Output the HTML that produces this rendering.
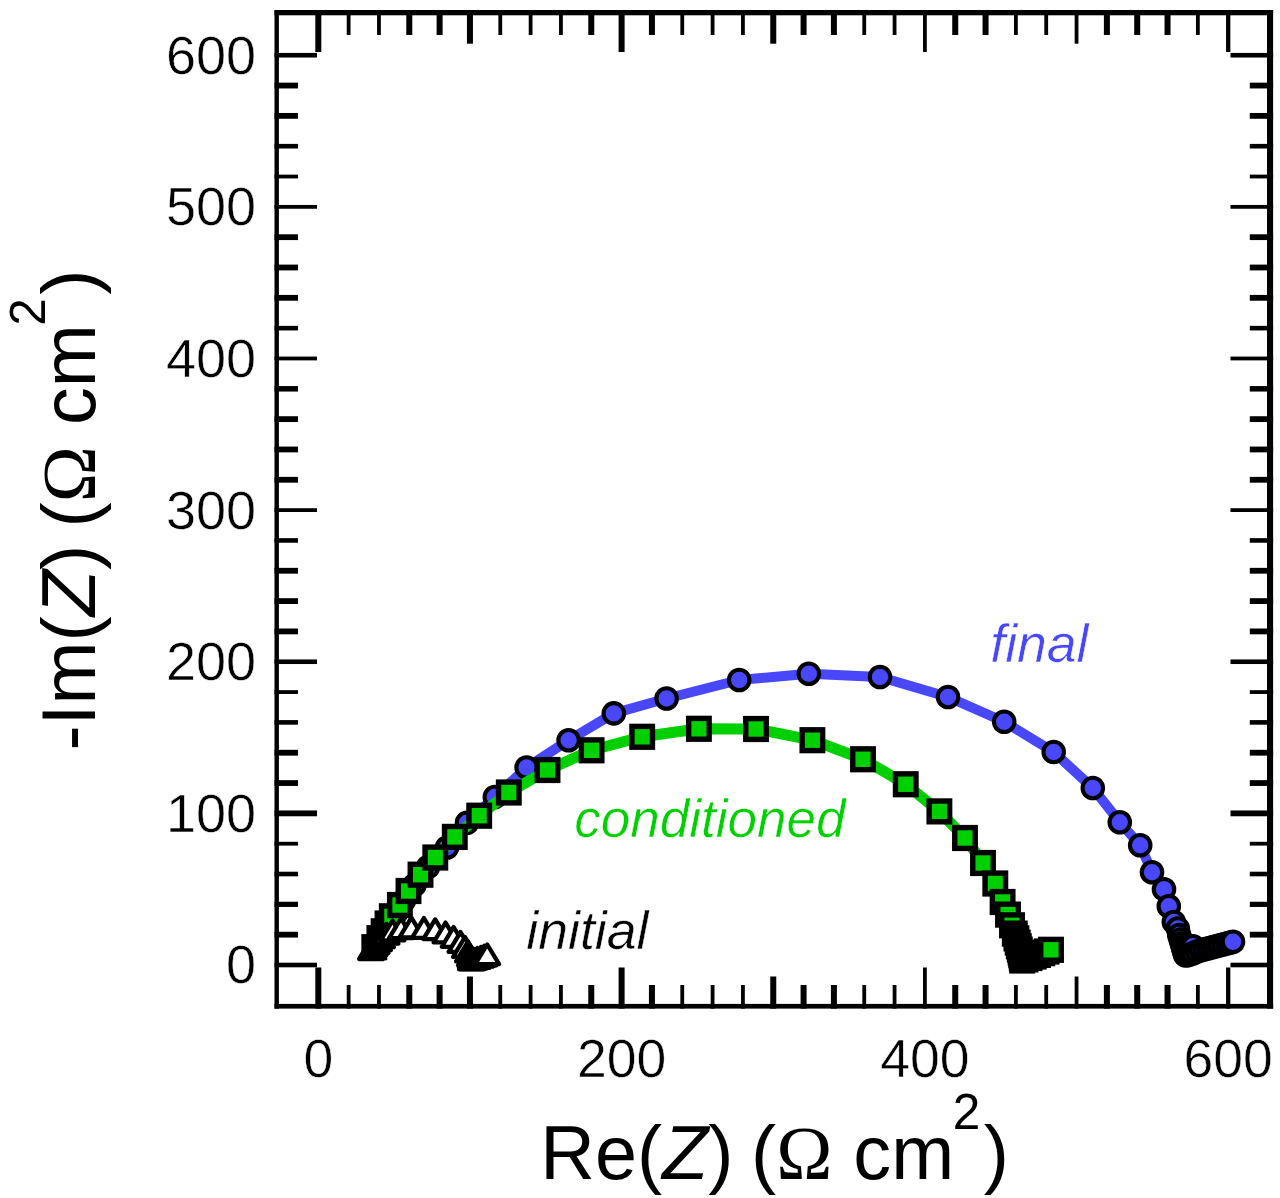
<!DOCTYPE html>
<html lang="en">
<head>
<meta charset="utf-8">
<title>Nyquist plot</title>
<style>
html,body{margin:0;padding:0;background:#fff;}
body{width:1280px;height:1198px;overflow:hidden;}
svg{display:block;}
</style>
</head>
<body>
<svg width="1280" height="1198" viewBox="0 0 1280 1198">
<rect x="0" y="0" width="1280" height="1198" fill="#fff"/>
<g id="frame">
<rect x="274.50" y="10.00" width="4.40" height="998.60" fill="#000"/>
<rect x="1267.00" y="10.00" width="6.10" height="998.60" fill="#000"/>
<rect x="274.50" y="10.00" width="998.60" height="5.30" fill="#000"/>
<rect x="274.50" y="1003.90" width="998.60" height="4.70" fill="#000"/>
</g>
<g id="ticks">
<rect x="315.30" y="10.00" width="6.00" height="42.00" fill="#000"/>
<rect x="315.30" y="967.50" width="6.00" height="41.10" fill="#000"/>
<rect x="274.50" y="962.70" width="42.50" height="4.60" fill="#000"/>
<rect x="1230.50" y="962.70" width="42.60" height="4.60" fill="#000"/>
<rect x="346.73" y="10.00" width="3.80" height="25.00" fill="#000"/>
<rect x="346.73" y="985.00" width="3.80" height="23.60" fill="#000"/>
<rect x="274.50" y="931.77" width="23.50" height="5.80" fill="#000"/>
<rect x="1249.80" y="931.77" width="23.30" height="5.80" fill="#000"/>
<rect x="377.06" y="10.00" width="3.80" height="25.00" fill="#000"/>
<rect x="377.06" y="985.00" width="3.80" height="23.60" fill="#000"/>
<rect x="274.50" y="901.75" width="23.50" height="5.20" fill="#000"/>
<rect x="1249.80" y="901.75" width="23.30" height="5.20" fill="#000"/>
<rect x="406.29" y="10.00" width="6.00" height="25.00" fill="#000"/>
<rect x="406.29" y="985.00" width="6.00" height="23.60" fill="#000"/>
<rect x="274.50" y="871.72" width="23.50" height="4.60" fill="#000"/>
<rect x="1249.80" y="871.72" width="23.30" height="4.60" fill="#000"/>
<rect x="436.62" y="10.00" width="6.00" height="25.00" fill="#000"/>
<rect x="436.62" y="985.00" width="6.00" height="23.60" fill="#000"/>
<rect x="274.50" y="841.80" width="23.50" height="3.80" fill="#000"/>
<rect x="1249.80" y="841.80" width="23.30" height="3.80" fill="#000"/>
<rect x="466.95" y="10.00" width="6.00" height="33.70" fill="#000"/>
<rect x="466.95" y="976.50" width="6.00" height="32.10" fill="#000"/>
<rect x="274.50" y="810.47" width="42.50" height="5.80" fill="#000"/>
<rect x="1230.50" y="810.47" width="42.60" height="5.80" fill="#000"/>
<rect x="498.38" y="10.00" width="3.80" height="25.00" fill="#000"/>
<rect x="498.38" y="985.00" width="3.80" height="23.60" fill="#000"/>
<rect x="274.50" y="780.14" width="23.50" height="5.80" fill="#000"/>
<rect x="1249.80" y="780.14" width="23.30" height="5.80" fill="#000"/>
<rect x="528.71" y="10.00" width="3.80" height="25.00" fill="#000"/>
<rect x="528.71" y="985.00" width="3.80" height="23.60" fill="#000"/>
<rect x="274.50" y="749.82" width="23.50" height="5.80" fill="#000"/>
<rect x="1249.80" y="749.82" width="23.30" height="5.80" fill="#000"/>
<rect x="559.04" y="10.00" width="3.80" height="25.00" fill="#000"/>
<rect x="559.04" y="985.00" width="3.80" height="23.60" fill="#000"/>
<rect x="274.50" y="720.09" width="23.50" height="4.60" fill="#000"/>
<rect x="1249.80" y="720.09" width="23.30" height="4.60" fill="#000"/>
<rect x="588.27" y="10.00" width="6.00" height="25.00" fill="#000"/>
<rect x="588.27" y="985.00" width="6.00" height="23.60" fill="#000"/>
<rect x="274.50" y="690.17" width="23.50" height="3.80" fill="#000"/>
<rect x="1249.80" y="690.17" width="23.30" height="3.80" fill="#000"/>
<rect x="618.60" y="10.00" width="6.00" height="42.00" fill="#000"/>
<rect x="618.60" y="967.50" width="6.00" height="41.10" fill="#000"/>
<rect x="274.50" y="659.44" width="42.50" height="4.60" fill="#000"/>
<rect x="1230.50" y="659.44" width="42.60" height="4.60" fill="#000"/>
<rect x="648.93" y="10.00" width="6.00" height="25.00" fill="#000"/>
<rect x="648.93" y="985.00" width="6.00" height="23.60" fill="#000"/>
<rect x="274.50" y="628.51" width="23.50" height="5.80" fill="#000"/>
<rect x="1249.80" y="628.51" width="23.30" height="5.80" fill="#000"/>
<rect x="680.36" y="10.00" width="3.80" height="25.00" fill="#000"/>
<rect x="680.36" y="985.00" width="3.80" height="23.60" fill="#000"/>
<rect x="274.50" y="598.19" width="23.50" height="5.80" fill="#000"/>
<rect x="1249.80" y="598.19" width="23.30" height="5.80" fill="#000"/>
<rect x="710.69" y="10.00" width="3.80" height="25.00" fill="#000"/>
<rect x="710.69" y="985.00" width="3.80" height="23.60" fill="#000"/>
<rect x="274.50" y="567.86" width="23.50" height="5.80" fill="#000"/>
<rect x="1249.80" y="567.86" width="23.30" height="5.80" fill="#000"/>
<rect x="741.02" y="10.00" width="3.80" height="25.00" fill="#000"/>
<rect x="741.02" y="985.00" width="3.80" height="23.60" fill="#000"/>
<rect x="274.50" y="538.14" width="23.50" height="4.60" fill="#000"/>
<rect x="1249.80" y="538.14" width="23.30" height="4.60" fill="#000"/>
<rect x="770.25" y="10.00" width="6.00" height="33.70" fill="#000"/>
<rect x="770.25" y="976.50" width="6.00" height="32.10" fill="#000"/>
<rect x="274.50" y="508.21" width="42.50" height="3.80" fill="#000"/>
<rect x="1230.50" y="508.21" width="42.60" height="3.80" fill="#000"/>
<rect x="800.58" y="10.00" width="6.00" height="25.00" fill="#000"/>
<rect x="800.58" y="985.00" width="6.00" height="23.60" fill="#000"/>
<rect x="274.50" y="476.88" width="23.50" height="5.80" fill="#000"/>
<rect x="1249.80" y="476.88" width="23.30" height="5.80" fill="#000"/>
<rect x="830.91" y="10.00" width="6.00" height="25.00" fill="#000"/>
<rect x="830.91" y="985.00" width="6.00" height="23.60" fill="#000"/>
<rect x="274.50" y="446.56" width="23.50" height="5.80" fill="#000"/>
<rect x="1249.80" y="446.56" width="23.30" height="5.80" fill="#000"/>
<rect x="862.34" y="10.00" width="3.80" height="25.00" fill="#000"/>
<rect x="862.34" y="985.00" width="3.80" height="23.60" fill="#000"/>
<rect x="274.50" y="416.23" width="23.50" height="5.80" fill="#000"/>
<rect x="1249.80" y="416.23" width="23.30" height="5.80" fill="#000"/>
<rect x="892.67" y="10.00" width="3.80" height="25.00" fill="#000"/>
<rect x="892.67" y="985.00" width="3.80" height="23.60" fill="#000"/>
<rect x="274.50" y="386.06" width="23.50" height="5.50" fill="#000"/>
<rect x="1249.80" y="386.06" width="23.30" height="5.50" fill="#000"/>
<rect x="923.00" y="10.00" width="3.80" height="42.00" fill="#000"/>
<rect x="923.00" y="967.50" width="3.80" height="41.10" fill="#000"/>
<rect x="274.50" y="356.58" width="42.50" height="3.80" fill="#000"/>
<rect x="1230.50" y="356.58" width="42.60" height="3.80" fill="#000"/>
<rect x="952.23" y="10.00" width="6.00" height="25.00" fill="#000"/>
<rect x="952.23" y="985.00" width="6.00" height="23.60" fill="#000"/>
<rect x="274.50" y="325.85" width="23.50" height="4.60" fill="#000"/>
<rect x="1249.80" y="325.85" width="23.30" height="4.60" fill="#000"/>
<rect x="982.56" y="10.00" width="6.00" height="25.00" fill="#000"/>
<rect x="982.56" y="985.00" width="6.00" height="23.60" fill="#000"/>
<rect x="274.50" y="294.93" width="23.50" height="5.80" fill="#000"/>
<rect x="1249.80" y="294.93" width="23.30" height="5.80" fill="#000"/>
<rect x="1013.99" y="10.00" width="3.80" height="25.00" fill="#000"/>
<rect x="1013.99" y="985.00" width="3.80" height="23.60" fill="#000"/>
<rect x="274.50" y="264.60" width="23.50" height="5.80" fill="#000"/>
<rect x="1249.80" y="264.60" width="23.30" height="5.80" fill="#000"/>
<rect x="1044.32" y="10.00" width="3.80" height="25.00" fill="#000"/>
<rect x="1044.32" y="985.00" width="3.80" height="23.60" fill="#000"/>
<rect x="274.50" y="234.28" width="23.50" height="5.80" fill="#000"/>
<rect x="1249.80" y="234.28" width="23.30" height="5.80" fill="#000"/>
<rect x="1074.65" y="10.00" width="3.80" height="33.70" fill="#000"/>
<rect x="1074.65" y="976.50" width="3.80" height="32.10" fill="#000"/>
<rect x="274.50" y="204.95" width="42.50" height="3.80" fill="#000"/>
<rect x="1230.50" y="204.95" width="42.60" height="3.80" fill="#000"/>
<rect x="1103.88" y="10.00" width="6.00" height="25.00" fill="#000"/>
<rect x="1103.88" y="985.00" width="6.00" height="23.60" fill="#000"/>
<rect x="274.50" y="174.62" width="23.50" height="3.80" fill="#000"/>
<rect x="1249.80" y="174.62" width="23.30" height="3.80" fill="#000"/>
<rect x="1134.21" y="10.00" width="6.00" height="25.00" fill="#000"/>
<rect x="1134.21" y="985.00" width="6.00" height="23.60" fill="#000"/>
<rect x="274.50" y="143.90" width="23.50" height="4.60" fill="#000"/>
<rect x="1249.80" y="143.90" width="23.30" height="4.60" fill="#000"/>
<rect x="1164.54" y="10.00" width="6.00" height="25.00" fill="#000"/>
<rect x="1164.54" y="985.00" width="6.00" height="23.60" fill="#000"/>
<rect x="274.50" y="112.97" width="23.50" height="5.80" fill="#000"/>
<rect x="1249.80" y="112.97" width="23.30" height="5.80" fill="#000"/>
<rect x="1195.97" y="10.00" width="3.80" height="25.00" fill="#000"/>
<rect x="1195.97" y="985.00" width="3.80" height="23.60" fill="#000"/>
<rect x="274.50" y="82.65" width="23.50" height="5.80" fill="#000"/>
<rect x="1249.80" y="82.65" width="23.30" height="5.80" fill="#000"/>
<rect x="1226.05" y="10.00" width="4.30" height="42.00" fill="#000"/>
<rect x="1226.05" y="967.50" width="4.30" height="41.10" fill="#000"/>
<rect x="274.50" y="52.92" width="42.50" height="4.60" fill="#000"/>
<rect x="1230.50" y="52.92" width="42.60" height="4.60" fill="#000"/>
</g>
<g id="final">
<polyline points="374.5,947.5 376.5,945.0 379.5,940.0 383.5,933.5 389.0,924.0 396.0,913.0 404.0,900.5 414.5,885.0 428.0,867.0 447.0,847.5 467.0,822.7 494.8,797.0 526.6,767.5 568.6,740.3 613.8,713.4 666.6,698.5 739.2,680.0 808.8,673.8 880.0,677.0 948.0,697.0 1004.2,721.8 1053.7,752.0 1092.8,788.0 1119.8,822.2 1140.2,845.2 1152.0,872.3 1164.0,889.3 1168.8,906.3 1173.8,922.0 1177.8,928.5 1179.2,935.0 1180.6,939.5 1181.8,943.5 1182.8,947.0 1183.7,950.0 1184.5,952.8 1185.3,955.3 1187.2,955.2 1189.6,954.5 1193.2,953.2 1197.0,951.6 1200.8,950.3 1204.6,949.2 1208.4,948.2 1212.2,947.2 1216.0,946.2 1219.8,945.2 1223.6,944.2 1227.4,943.2 1230.4,942.5 1233.0,941.8" fill="none" stroke="#4848fa" stroke-width="10" stroke-linejoin="round" stroke-linecap="round"/>
<circle cx="374.5" cy="947.5" r="10.25" fill="#4848fa" stroke="#000" stroke-width="4.1"/>
<circle cx="376.5" cy="945.0" r="10.25" fill="#4848fa" stroke="#000" stroke-width="4.1"/>
<circle cx="379.5" cy="940.0" r="10.25" fill="#4848fa" stroke="#000" stroke-width="4.1"/>
<circle cx="383.5" cy="933.5" r="10.25" fill="#4848fa" stroke="#000" stroke-width="4.1"/>
<circle cx="389.0" cy="924.0" r="10.25" fill="#4848fa" stroke="#000" stroke-width="4.1"/>
<circle cx="396.0" cy="913.0" r="10.25" fill="#4848fa" stroke="#000" stroke-width="4.1"/>
<circle cx="404.0" cy="900.5" r="10.25" fill="#4848fa" stroke="#000" stroke-width="4.1"/>
<circle cx="414.5" cy="885.0" r="10.25" fill="#4848fa" stroke="#000" stroke-width="4.1"/>
<circle cx="428.0" cy="867.0" r="10.25" fill="#4848fa" stroke="#000" stroke-width="4.1"/>
<circle cx="447.0" cy="847.5" r="10.25" fill="#4848fa" stroke="#000" stroke-width="4.1"/>
<circle cx="467.0" cy="822.7" r="10.25" fill="#4848fa" stroke="#000" stroke-width="4.1"/>
<circle cx="494.8" cy="797.0" r="10.25" fill="#4848fa" stroke="#000" stroke-width="4.1"/>
<circle cx="526.6" cy="767.5" r="10.25" fill="#4848fa" stroke="#000" stroke-width="4.1"/>
<circle cx="568.6" cy="740.3" r="10.25" fill="#4848fa" stroke="#000" stroke-width="4.1"/>
<circle cx="613.8" cy="713.4" r="10.25" fill="#4848fa" stroke="#000" stroke-width="4.1"/>
<circle cx="666.6" cy="698.5" r="10.25" fill="#4848fa" stroke="#000" stroke-width="4.1"/>
<circle cx="739.2" cy="680.0" r="10.25" fill="#4848fa" stroke="#000" stroke-width="4.1"/>
<circle cx="808.8" cy="673.8" r="10.25" fill="#4848fa" stroke="#000" stroke-width="4.1"/>
<circle cx="880.0" cy="677.0" r="10.25" fill="#4848fa" stroke="#000" stroke-width="4.1"/>
<circle cx="948.0" cy="697.0" r="10.25" fill="#4848fa" stroke="#000" stroke-width="4.1"/>
<circle cx="1004.2" cy="721.8" r="10.25" fill="#4848fa" stroke="#000" stroke-width="4.1"/>
<circle cx="1053.7" cy="752.0" r="10.25" fill="#4848fa" stroke="#000" stroke-width="4.1"/>
<circle cx="1092.8" cy="788.0" r="10.25" fill="#4848fa" stroke="#000" stroke-width="4.1"/>
<circle cx="1119.8" cy="822.2" r="10.25" fill="#4848fa" stroke="#000" stroke-width="4.1"/>
<circle cx="1140.2" cy="845.2" r="10.25" fill="#4848fa" stroke="#000" stroke-width="4.1"/>
<circle cx="1152.0" cy="872.3" r="10.25" fill="#4848fa" stroke="#000" stroke-width="4.1"/>
<circle cx="1164.0" cy="889.3" r="10.25" fill="#4848fa" stroke="#000" stroke-width="4.1"/>
<circle cx="1168.8" cy="906.3" r="10.25" fill="#4848fa" stroke="#000" stroke-width="4.1"/>
<circle cx="1173.8" cy="922.0" r="10.25" fill="#4848fa" stroke="#000" stroke-width="4.1"/>
<circle cx="1177.8" cy="928.5" r="10.25" fill="#4848fa" stroke="#000" stroke-width="4.1"/>
<circle cx="1179.2" cy="935.0" r="10.25" fill="#4848fa" stroke="#000" stroke-width="4.1"/>
<circle cx="1180.6" cy="939.5" r="10.25" fill="#4848fa" stroke="#000" stroke-width="4.1"/>
<circle cx="1181.8" cy="943.5" r="10.25" fill="#4848fa" stroke="#000" stroke-width="4.1"/>
<circle cx="1182.8" cy="947.0" r="10.25" fill="#4848fa" stroke="#000" stroke-width="4.1"/>
<circle cx="1183.7" cy="950.0" r="10.25" fill="#4848fa" stroke="#000" stroke-width="4.1"/>
<circle cx="1184.5" cy="952.8" r="10.25" fill="#4848fa" stroke="#000" stroke-width="4.1"/>
<circle cx="1185.3" cy="955.3" r="10.25" fill="#4848fa" stroke="#000" stroke-width="4.1"/>
<circle cx="1187.2" cy="955.2" r="10.25" fill="#4848fa" stroke="#000" stroke-width="4.1"/>
<circle cx="1193.0" cy="946.2" r="10.25" fill="#4848fa" stroke="#000" stroke-width="4.1"/>
<circle cx="1189.6" cy="954.5" r="10.25" fill="#4848fa" stroke="#000" stroke-width="4.1"/>
<circle cx="1193.2" cy="953.2" r="10.25" fill="#4848fa" stroke="#000" stroke-width="4.1"/>
<circle cx="1197.0" cy="951.6" r="10.25" fill="#4848fa" stroke="#000" stroke-width="4.1"/>
<circle cx="1200.8" cy="950.3" r="10.25" fill="#4848fa" stroke="#000" stroke-width="4.1"/>
<circle cx="1204.6" cy="949.2" r="10.25" fill="#4848fa" stroke="#000" stroke-width="4.1"/>
<circle cx="1208.4" cy="948.2" r="10.25" fill="#4848fa" stroke="#000" stroke-width="4.1"/>
<circle cx="1212.2" cy="947.2" r="10.25" fill="#4848fa" stroke="#000" stroke-width="4.1"/>
<circle cx="1216.0" cy="946.2" r="10.25" fill="#4848fa" stroke="#000" stroke-width="4.1"/>
<circle cx="1219.8" cy="945.2" r="10.25" fill="#4848fa" stroke="#000" stroke-width="4.1"/>
<circle cx="1223.6" cy="944.2" r="10.25" fill="#4848fa" stroke="#000" stroke-width="4.1"/>
<circle cx="1227.4" cy="943.2" r="10.25" fill="#4848fa" stroke="#000" stroke-width="4.1"/>
<circle cx="1230.4" cy="942.5" r="10.25" fill="#4848fa" stroke="#000" stroke-width="4.1"/>
<circle cx="1233.0" cy="941.8" r="10.25" fill="#4848fa" stroke="#000" stroke-width="4.1"/>
</g>
<g id="conditioned">
<polyline points="374.3,947.2 379.4,938.2 383.6,931.3 387.5,923.5 391.8,916.3 399.9,905.0 408.5,891.0 420.5,874.7 435.3,857.5 454.8,836.9 479.2,815.7 508.8,792.5 547.5,770.0 591.6,750.3 642.2,736.8 698.9,728.8 756.0,729.0 812.4,740.2 863.0,759.2 905.8,784.2 939.4,811.4 965.0,838.0 983.0,863.0 995.3,883.5 1002.6,902.0 1008.0,914.6 1012.0,925.3 1014.8,933.6 1016.4,938.4 1017.7,942.6 1018.8,946.3 1019.8,949.6 1020.6,952.6 1021.2,955.2 1021.7,957.4 1022.0,959.2 1022.2,960.5 1025.5,959.4 1029.5,958.0 1033.7,956.5 1038.0,954.9 1042.3,953.2 1046.6,951.5 1051.0,949.8" fill="none" stroke="#00d000" stroke-width="11" stroke-linejoin="round" stroke-linecap="round"/>
<rect x="364.05" y="936.80" width="20.5" height="20.8" fill="#00d000" stroke="#000" stroke-width="5.4"/>
<rect x="369.15" y="927.80" width="20.5" height="20.8" fill="#00d000" stroke="#000" stroke-width="5.4"/>
<rect x="373.35" y="920.90" width="20.5" height="20.8" fill="#00d000" stroke="#000" stroke-width="5.4"/>
<rect x="377.25" y="913.10" width="20.5" height="20.8" fill="#00d000" stroke="#000" stroke-width="5.4"/>
<rect x="381.55" y="905.90" width="20.5" height="20.8" fill="#00d000" stroke="#000" stroke-width="5.4"/>
<rect x="389.65" y="894.60" width="20.5" height="20.8" fill="#00d000" stroke="#000" stroke-width="5.4"/>
<rect x="398.25" y="880.60" width="20.5" height="20.8" fill="#00d000" stroke="#000" stroke-width="5.4"/>
<rect x="410.25" y="864.30" width="20.5" height="20.8" fill="#00d000" stroke="#000" stroke-width="5.4"/>
<rect x="425.05" y="847.10" width="20.5" height="20.8" fill="#00d000" stroke="#000" stroke-width="5.4"/>
<rect x="444.55" y="826.50" width="20.5" height="20.8" fill="#00d000" stroke="#000" stroke-width="5.4"/>
<rect x="468.95" y="805.30" width="20.5" height="20.8" fill="#00d000" stroke="#000" stroke-width="5.4"/>
<rect x="498.55" y="782.10" width="20.5" height="20.8" fill="#00d000" stroke="#000" stroke-width="5.4"/>
<rect x="537.25" y="759.60" width="20.5" height="20.8" fill="#00d000" stroke="#000" stroke-width="5.4"/>
<rect x="581.35" y="739.90" width="20.5" height="20.8" fill="#00d000" stroke="#000" stroke-width="5.4"/>
<rect x="631.95" y="726.40" width="20.5" height="20.8" fill="#00d000" stroke="#000" stroke-width="5.4"/>
<rect x="688.65" y="718.40" width="20.5" height="20.8" fill="#00d000" stroke="#000" stroke-width="5.4"/>
<rect x="745.75" y="718.60" width="20.5" height="20.8" fill="#00d000" stroke="#000" stroke-width="5.4"/>
<rect x="802.15" y="729.80" width="20.5" height="20.8" fill="#00d000" stroke="#000" stroke-width="5.4"/>
<rect x="852.75" y="748.85" width="20.5" height="20.8" fill="#00d000" stroke="#000" stroke-width="5.4"/>
<rect x="895.50" y="773.85" width="20.5" height="20.8" fill="#00d000" stroke="#000" stroke-width="5.4"/>
<rect x="929.15" y="801.00" width="20.5" height="20.8" fill="#00d000" stroke="#000" stroke-width="5.4"/>
<rect x="954.75" y="827.60" width="20.5" height="20.8" fill="#00d000" stroke="#000" stroke-width="5.4"/>
<rect x="972.75" y="852.60" width="20.5" height="20.8" fill="#00d000" stroke="#000" stroke-width="5.4"/>
<rect x="985.05" y="873.10" width="20.5" height="20.8" fill="#00d000" stroke="#000" stroke-width="5.4"/>
<rect x="992.35" y="891.60" width="20.5" height="20.8" fill="#00d000" stroke="#000" stroke-width="5.4"/>
<rect x="997.75" y="904.20" width="20.5" height="20.8" fill="#00d000" stroke="#000" stroke-width="5.4"/>
<rect x="1001.75" y="914.90" width="20.5" height="20.8" fill="#00d000" stroke="#000" stroke-width="5.4"/>
<rect x="1004.55" y="923.20" width="20.5" height="20.8" fill="#00d000" stroke="#000" stroke-width="5.4"/>
<rect x="1006.15" y="928.00" width="20.5" height="20.8" fill="#00d000" stroke="#000" stroke-width="5.4"/>
<rect x="1007.45" y="932.20" width="20.5" height="20.8" fill="#00d000" stroke="#000" stroke-width="5.4"/>
<rect x="1008.55" y="935.90" width="20.5" height="20.8" fill="#00d000" stroke="#000" stroke-width="5.4"/>
<rect x="1009.55" y="939.20" width="20.5" height="20.8" fill="#00d000" stroke="#000" stroke-width="5.4"/>
<rect x="1010.35" y="942.20" width="20.5" height="20.8" fill="#00d000" stroke="#000" stroke-width="5.4"/>
<rect x="1010.95" y="944.80" width="20.5" height="20.8" fill="#00d000" stroke="#000" stroke-width="5.4"/>
<rect x="1011.45" y="947.00" width="20.5" height="20.8" fill="#00d000" stroke="#000" stroke-width="5.4"/>
<rect x="1011.75" y="948.80" width="20.5" height="20.8" fill="#00d000" stroke="#000" stroke-width="5.4"/>
<rect x="1011.95" y="950.10" width="20.5" height="20.8" fill="#00d000" stroke="#000" stroke-width="5.4"/>
<rect x="1015.25" y="949.00" width="20.5" height="20.8" fill="#00d000" stroke="#000" stroke-width="5.4"/>
<rect x="1019.25" y="947.60" width="20.5" height="20.8" fill="#00d000" stroke="#000" stroke-width="5.4"/>
<rect x="1023.45" y="946.10" width="20.5" height="20.8" fill="#00d000" stroke="#000" stroke-width="5.4"/>
<rect x="1027.75" y="944.50" width="20.5" height="20.8" fill="#00d000" stroke="#000" stroke-width="5.4"/>
<rect x="1032.05" y="942.80" width="20.5" height="20.8" fill="#00d000" stroke="#000" stroke-width="5.4"/>
<rect x="1036.35" y="941.10" width="20.5" height="20.8" fill="#00d000" stroke="#000" stroke-width="5.4"/>
<rect x="1040.75" y="939.40" width="20.5" height="20.8" fill="#00d000" stroke="#000" stroke-width="5.4"/>
</g>
<g id="initial">
<path d="M371.0,939.4 L382.9,959.1 L359.1,959.1 Z" fill="#fff" stroke="#000" stroke-width="4.3" stroke-linejoin="round"/>
<path d="M371.8,938.4 L383.7,958.1 L359.9,958.1 Z" fill="#fff" stroke="#000" stroke-width="4.3" stroke-linejoin="round"/>
<path d="M373.0,937.1 L384.9,956.9 L361.1,956.9 Z" fill="#fff" stroke="#000" stroke-width="4.3" stroke-linejoin="round"/>
<path d="M374.6,935.4 L386.5,955.1 L362.8,955.1 Z" fill="#fff" stroke="#000" stroke-width="4.3" stroke-linejoin="round"/>
<path d="M376.6,933.1 L388.5,952.9 L364.8,952.9 Z" fill="#fff" stroke="#000" stroke-width="4.3" stroke-linejoin="round"/>
<path d="M379.0,930.4 L390.9,950.1 L367.1,950.1 Z" fill="#fff" stroke="#000" stroke-width="4.3" stroke-linejoin="round"/>
<path d="M382.0,927.4 L393.9,947.1 L370.1,947.1 Z" fill="#fff" stroke="#000" stroke-width="4.3" stroke-linejoin="round"/>
<path d="M386.5,923.9 L398.4,943.6 L374.6,943.6 Z" fill="#fff" stroke="#000" stroke-width="4.3" stroke-linejoin="round"/>
<path d="M392.5,920.6 L404.4,940.4 L380.6,940.4 Z" fill="#fff" stroke="#000" stroke-width="4.3" stroke-linejoin="round"/>
<path d="M401.0,918.4 L412.9,938.1 L389.1,938.1 Z" fill="#fff" stroke="#000" stroke-width="4.3" stroke-linejoin="round"/>
<path d="M411.4,917.6 L423.2,937.4 L399.5,937.4 Z" fill="#fff" stroke="#000" stroke-width="4.3" stroke-linejoin="round"/>
<path d="M423.9,918.1 L435.8,937.9 L412.0,937.9 Z" fill="#fff" stroke="#000" stroke-width="4.3" stroke-linejoin="round"/>
<path d="M435.2,919.4 L447.1,939.1 L423.3,939.1 Z" fill="#fff" stroke="#000" stroke-width="4.3" stroke-linejoin="round"/>
<path d="M445.5,922.6 L457.4,942.4 L433.6,942.4 Z" fill="#fff" stroke="#000" stroke-width="4.3" stroke-linejoin="round"/>
<path d="M453.6,927.0 L465.5,946.8 L441.8,946.8 Z" fill="#fff" stroke="#000" stroke-width="4.3" stroke-linejoin="round"/>
<path d="M460.5,932.1 L472.4,951.9 L448.6,951.9 Z" fill="#fff" stroke="#000" stroke-width="4.3" stroke-linejoin="round"/>
<path d="M465.0,937.1 L476.9,956.9 L453.1,956.9 Z" fill="#fff" stroke="#000" stroke-width="4.3" stroke-linejoin="round"/>
<path d="M468.0,941.6 L479.9,961.4 L456.1,961.4 Z" fill="#fff" stroke="#000" stroke-width="4.3" stroke-linejoin="round"/>
<path d="M470.0,945.6 L481.9,965.4 L458.1,965.4 Z" fill="#fff" stroke="#000" stroke-width="4.3" stroke-linejoin="round"/>
<path d="M470.8,948.1 L482.7,967.9 L458.9,967.9 Z" fill="#fff" stroke="#000" stroke-width="4.3" stroke-linejoin="round"/>
<path d="M471.0,949.6 L482.9,969.4 L459.1,969.4 Z" fill="#fff" stroke="#000" stroke-width="4.3" stroke-linejoin="round"/>
<path d="M472.5,949.4 L484.4,969.1 L460.6,969.1 Z" fill="#fff" stroke="#000" stroke-width="4.3" stroke-linejoin="round"/>
<path d="M474.5,948.9 L486.4,968.6 L462.6,968.6 Z" fill="#fff" stroke="#000" stroke-width="4.3" stroke-linejoin="round"/>
<path d="M477.5,948.1 L489.4,967.9 L465.6,967.9 Z" fill="#fff" stroke="#000" stroke-width="4.3" stroke-linejoin="round"/>
<path d="M481.0,946.9 L492.9,966.6 L469.1,966.6 Z" fill="#fff" stroke="#000" stroke-width="4.3" stroke-linejoin="round"/>
<path d="M484.2,945.8 L496.1,965.5 L472.3,965.5 Z" fill="#fff" stroke="#000" stroke-width="4.3" stroke-linejoin="round"/>
<path d="M487.2,944.5 L499.1,964.2 L475.3,964.2 Z" fill="#fff" stroke="#000" stroke-width="4.3" stroke-linejoin="round"/>
</g>
<g id="labels" font-family="'Liberation Sans', sans-serif" fill="#000">
<text x="256" y="983.4" font-size="54" text-anchor="end" stroke="#fff" stroke-width="0.5">0</text>
<text x="256" y="831.8" font-size="54" text-anchor="end" stroke="#fff" stroke-width="0.5">100</text>
<text x="256" y="680.1" font-size="54" text-anchor="end" stroke="#fff" stroke-width="0.5">200</text>
<text x="256" y="528.5" font-size="54" text-anchor="end" stroke="#fff" stroke-width="0.5">300</text>
<text x="256" y="376.9" font-size="54" text-anchor="end" stroke="#fff" stroke-width="0.5">400</text>
<text x="256" y="225.3" font-size="54" text-anchor="end" stroke="#fff" stroke-width="0.5">500</text>
<text x="256" y="73.6" font-size="54" text-anchor="end" stroke="#fff" stroke-width="0.5">600</text>
<text x="318.3" y="1077.2" font-size="53.5" text-anchor="middle" stroke="#fff" stroke-width="0.5">0</text>
<text x="621.6" y="1077.2" font-size="53.5" text-anchor="middle" stroke="#fff" stroke-width="0.5">200</text>
<text x="924.9" y="1077.2" font-size="53.5" text-anchor="middle" stroke="#fff" stroke-width="0.5">400</text>
<text x="1228.2" y="1077.2" font-size="53.5" text-anchor="middle" stroke="#fff" stroke-width="0.5">600</text>
<text x="990.3" y="661.8" font-size="53.5" font-style="italic" fill="#4848fa" stroke="#fff" stroke-width="0.5">final</text>
<text x="574.3" y="836.8" font-size="53" font-style="italic" fill="#00d000" stroke="#fff" stroke-width="0.5">conditioned</text>
<text x="526.3" y="948.7" font-size="53.6" font-style="italic" fill="#000" stroke="#fff" stroke-width="0.5">initial</text>
<text x="540.3" y="1179.1" font-size="75.6">Re(<tspan font-style="italic">Z</tspan>) <tspan dx="-3.5">(</tspan><tspan font-family="'Liberation Serif', serif">Ω</tspan> cm<tspan font-size="49.5" dx="-1.5" dy="-50">2</tspan><tspan dx="3.5" dy="50">)</tspan></text>
<text transform="translate(94.6,750.6) rotate(-90)" font-size="75.6">-Im(<tspan font-style="italic">Z</tspan>) <tspan dx="-3.5">(</tspan><tspan font-family="'Liberation Serif', serif">Ω</tspan> cm<tspan font-size="49.5" dx="-1.5" dy="-50">2</tspan><tspan dx="3.5" dy="50">)</tspan></text>
</g>
</svg>
</body>
</html>
